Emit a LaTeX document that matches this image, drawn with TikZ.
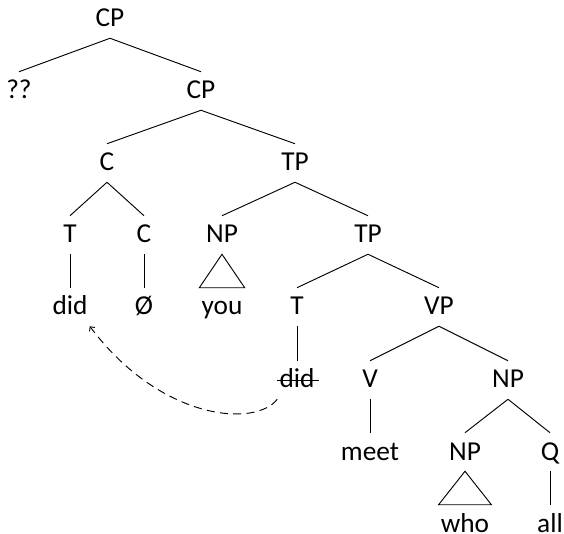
\documentclass[tikz,border=0pt]{standalone}
\usepackage{fontspec}
\setmainfont{Carlito}
\usetikzlibrary{calc,arrows.meta}
\begin{document}
\begin{tikzpicture}[x=0.75pt,y=-0.75pt,
  lbl/.style={anchor=base,inner xsep=1.5pt,inner ysep=0pt,text height=20.25pt,text depth=8.25pt,font=\fontsize{20.5}{24}\selectfont},
  edge/.style={line width=0.7pt},
  move/.style={line width=0.7pt,dashed,dash pattern=on 6pt off 4pt,-{Straight Barb[length=2.5pt,width=5pt]}}]
\useasboundingbox (0,0) rectangle (564,534);
\node[lbl] (cp0) at (110,27) {CP};
\node[lbl] (qq) at (19,99) {??};
\node[lbl] (cp1) at (201,99) {CP};
\node[lbl] (c1) at (107,171) {C};
\node[lbl] (tp1) at (295,171) {TP};
\node[lbl] (t1) at (70,243) {T};
\node[lbl] (c2) at (144,243) {C};
\node[lbl] (np1) at (222,243) {NP};
\node[lbl] (tp2) at (368,243) {TP};
\node[lbl] (did1) at (70,315) {did};
\node[lbl] (empty) at (144,315) {Ø};
\node[lbl] (you) at (222,315) {you};
\node[lbl] (t2) at (297,315) {T};
\node[lbl] (vp) at (439,315) {VP};
\node[lbl] (did2) at (297,388) {did};
\node[lbl] (v) at (370,388) {V};
\node[lbl] (np2) at (508,388) {NP};
\node[lbl] (meet) at (370,460) {meet};
\node[lbl] (np3) at (465,460) {NP};
\node[lbl] (q) at (550,460) {Q};
\node[lbl] (who) at (465,532) {who};
\node[lbl] (all) at (550,532) {all};
\draw[edge] (cp0.south) -- (qq.north);
\draw[edge] (cp0.south) -- (cp1.north);
\draw[edge] (cp1.south) -- (c1.north);
\draw[edge] (cp1.south) -- (tp1.north);
\draw[edge] (c1.south) -- (t1.north);
\draw[edge] (c1.south) -- (c2.north);
\draw[edge] (tp1.south) -- (np1.north);
\draw[edge] (tp1.south) -- (tp2.north);
\draw[edge] (t1.south) -- (did1.north);
\draw[edge] (c2.south) -- (empty.north);
\draw[edge] (np1.south) -- (you.north west) -- (you.north east) -- cycle;
\draw[edge] (tp2.south) -- (t2.north);
\draw[edge] (tp2.south) -- (vp.north);
\draw[edge] (t2.south) -- (did2.north);
\draw[edge] (vp.south) -- (v.north);
\draw[edge] (vp.south) -- (np2.north);
\draw[edge] (v.south) -- (meet.north);
\draw[edge] (np2.south) -- (np3.north);
\draw[edge] (np2.south) -- (q.north);
\draw[edge] (np3.south) -- (who.north west) -- (who.north east) -- cycle;
\draw[edge] (q.south) -- (all.north);
\draw[edge] (did2.west) -- ($(did2.east)+(2,0)$);
\draw[move] (did2.south west) .. controls (255,428) and (160,420) .. (did1.south east);
\end{tikzpicture}
\end{document}
